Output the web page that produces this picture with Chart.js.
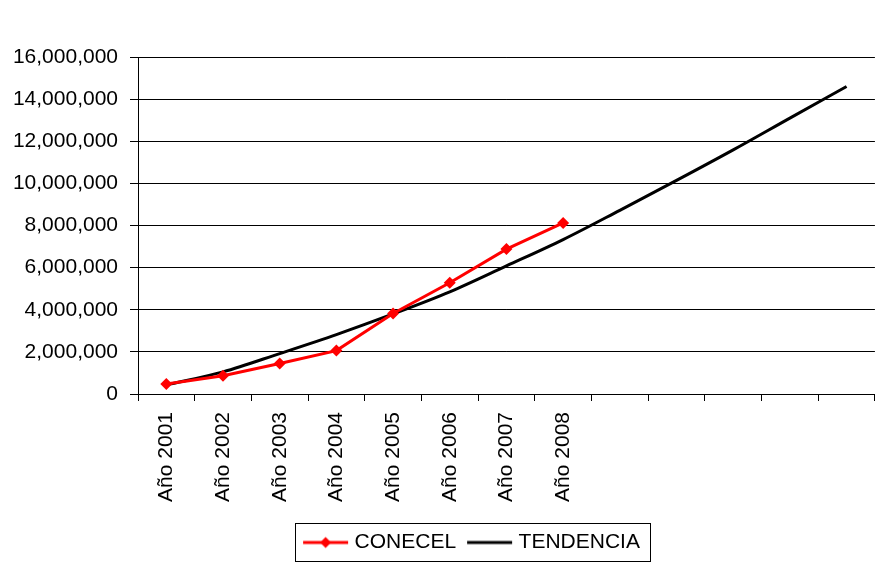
<!DOCTYPE html>
<html>
<head>
<meta charset="utf-8">
<script src="https://cdn.jsdelivr.net/npm/chart.js@4/dist/chart.umd.min.js"></script>
<style>
  html, body { margin: 0; padding: 0; background: #fff; }
  #wrap { width: 883px; height: 563px; position: relative; }
</style>
</head>
<body>
<div id="wrap"><canvas id="c" width="883" height="563"></canvas></div>
<script>
const categories = ['Año 2001', 'Año 2002', 'Año 2003', 'Año 2004', 'Año 2005', 'Año 2006', 'Año 2007', 'Año 2008', '', '', '', '', ''];
const conecel = [470000, 870000, 1450000, 2060000, 3820000, 5280000, 6880000, 8120000];
const tendencia = [430000, 1050000, 1920000, 2820000, 3800000, 4850000, 6080000, 7330000, 8720000, 10140000, 11590000, 13100000, 14600000];
const seriesNames = ['CONECEL', 'TENDENCIA'];
const yTicks = [0, 2000000, 4000000, 6000000, 8000000, 10000000, 12000000, 14000000, 16000000];

const FONT = "'Liberation Sans', Arial, sans-serif";

function makeIcon(color, diamond) {
  const c = document.createElement('canvas');
  c.width = 54; c.height = 14;
  const g = c.getContext('2d');
  g.strokeStyle = color; g.lineWidth = 3;
  g.beginPath(); g.moveTo(8, 7); g.lineTo(53, 7); g.stroke();
  if (diamond) {
    g.fillStyle = color;
    g.beginPath();
    g.moveTo(30.5, 1.5); g.lineTo(36, 7); g.lineTo(30.5, 12.5); g.lineTo(25, 7); g.closePath();
    g.fill();
  }
  return c;
}
const icons = [makeIcon('#ff0000', true), makeIcon('#000000', false)];

const legendBoxPlugin = {
  id: 'legendBox',
  afterLayout(chart) {
    const l = chart.legend;
    if (!l) return;
    const c = (l.left + l.right) / 2;
    const d = 470 - c;
    l.left += d; l.right += d;
  },
  afterDraw(chart) {
    const l = chart.legend;
    if (!l || !l.legendHitBoxes || !l.legendHitBoxes.length) return;
    const hb = l.legendHitBoxes;
    const x0 = hb[0].left - 5;
    const last = hb[hb.length - 1];
    const x1 = last.left + last.width + 10;
    const ctx = chart.ctx;
    ctx.save();
    ctx.strokeStyle = '#000';
    ctx.lineWidth = 1;
    ctx.strokeRect(Math.round(x0) + 0.5, Math.round(l.top) - 0.5, Math.round(x1 - x0), Math.round(l.height) - 1);
    ctx.restore();
  }
};

new Chart(document.getElementById('c'), {
  type: 'line',
  data: {
    labels: categories,
    datasets: [
      {
        label: seriesNames[0],
        data: conecel,
        borderColor: '#ff0000',
        backgroundColor: '#ff0000',
        borderWidth: 3,
        pointStyle: 'rectRot',
        pointRadius: 6,
        pointHoverRadius: 6,
        pointBorderWidth: 0,
        tension: 0,
        fill: false
      },
      {
        label: seriesNames[1],
        data: tendencia,
        borderColor: '#000000',
        backgroundColor: '#000000',
        borderWidth: 3,
        pointRadius: 0,
        cubicInterpolationMode: 'monotone',
        fill: false
      }
    ]
  },
  plugins: [legendBoxPlugin],
  options: {
    responsive: true,
    maintainAspectRatio: false,
    animation: false,
    layout: { padding: { top: 57, right: 5, left: 0, bottom: 0 } },
    plugins: {
      tooltip: { enabled: false },
      legend: {
        position: 'bottom',
        labels: {
          usePointStyle: true,
          pointStyleWidth: 44,
          padding: 8,
          color: '#000',
          font: { family: FONT, size: 21 },
          generateLabels(chart) {
            const items = Chart.defaults.plugins.legend.labels.generateLabels(chart);
            items.forEach((it, i) => { it.pointStyle = icons[i]; it.lineWidth = 0; });
            return items;
          }
        }
      }
    },
    scales: {
      x: {
        offset: true,
        grid: { offset: true, drawOnChartArea: false, drawTicks: true, tickLength: 7, color: '#000', lineWidth: 1 },
        border: { color: '#000', width: 1 },
        ticks: {
          autoSkip: false, minRotation: 90, maxRotation: 90, padding: 11,
          color: '#000', font: { family: FONT, size: 21 }
        },
        afterFit(scale) { scale.height = 130; }
      },
      y: {
        min: 0, max: 16000000,
        afterBuildTicks(scale) { scale.ticks = yTicks.map(v => ({ value: v })); },
        grid: { color: '#000', lineWidth: 1, tickLength: 8, drawTicks: true },
        border: { color: '#000', width: 1 },
        ticks: {
          padding: 12, color: '#000', font: { family: FONT, size: 21 },
          callback: (v) => Number(v).toLocaleString('en-US')
        },
        afterFit(scale) { scale.width = 138; }
      }
    }
  }
});
</script>
</body>
</html>
